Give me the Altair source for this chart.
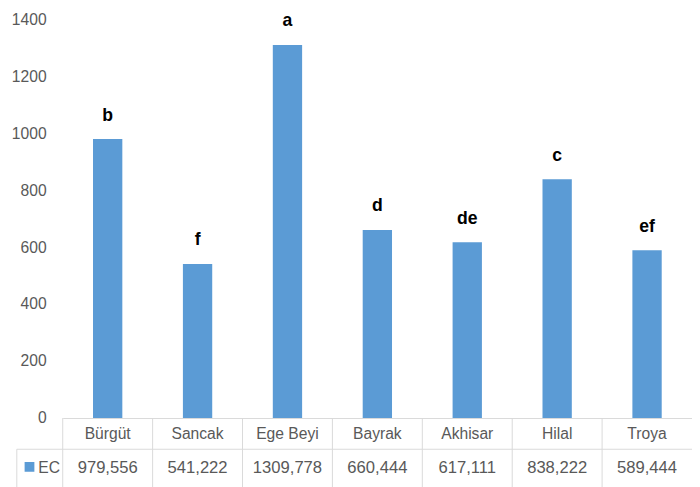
import altair as alt
import pandas as pd

categories = ["Bürgüt", "Sancak", "Ege Beyi", "Bayrak", "Akhisar", "Hilal", "Troya"]
ec_values = [979.556, 541.222, 1309.778, 660.444, 617.111, 838.222, 589.444]
letters = ["b", "f", "a", "d", "de", "c", "ef"]
y_ticks = [0, 200, 400, 600, 800, 1000, 1200, 1400]
series_name = "EC"

df = pd.DataFrame({
    "cat": categories,
    "value": ec_values,
    "letter": letters,
    "label": [f"{v:.3f}".replace(".", ",") for v in ec_values],
})
one = pd.DataFrame({"series": [series_name]})

W = 644
H = 408
FONT = "Liberation Sans"
GRAY_TXT = "#595959"
LINE = "#D9D9D9"
BLUE = "#5B9BD5"

x_axis = alt.Axis(title=None, labelAngle=0, ticks=False, domainColor=LINE, domainWidth=1,
                  labelFont=FONT, labelFontSize=16, labelColor=GRAY_TXT, labelPadding=8,
                  grid=False)
x_scale = alt.Scale(domain=categories, paddingInner=0, paddingOuter=0)
y_scale = alt.Scale(domain=[0, 1400], nice=False)
y_axis = alt.Axis(title=None, values=y_ticks, format="d", domain=False, ticks=False, grid=False,
                  labelFont=FONT, labelFontSize=16, labelColor=GRAY_TXT, labelPadding=17)

X = alt.X("cat:N", sort=categories, scale=x_scale, axis=x_axis)
Y = alt.Y("value:Q", scale=y_scale, axis=y_axis)

bars = alt.Chart(df).mark_bar(size=30, color=BLUE).encode(x=X, y=Y)

sig = alt.Chart(df).mark_text(font=FONT, fontSize=18, fontWeight="bold", color="black",
                              baseline="alphabetic", dy=-19).encode(x=X, y=Y, text="letter:N")

vals = alt.Chart(df).mark_text(font=FONT, fontSize=17, color=GRAY_TXT,
                               baseline="alphabetic").encode(
    x=X, y=alt.value(H + 56), text="label:N")

vlines = alt.Chart(df).mark_rule(color=LINE, strokeWidth=1).encode(
    x=alt.X("cat:N", sort=categories, scale=x_scale, axis=x_axis, bandPosition=0),
    y=alt.value(H), y2=alt.value(H + 75))

hline = alt.Chart(one).mark_rule(color=LINE, strokeWidth=1).encode(
    x=alt.value(-47), x2=alt.value(W + 20), y=alt.value(H + 32))

lborder = alt.Chart(one).mark_rule(color=LINE, strokeWidth=1).encode(
    x=alt.value(-47), y=alt.value(H + 32), y2=alt.value(H + 75))

swatch = alt.Chart(one).mark_point(shape="square", filled=True, size=100, color=BLUE,
                                   opacity=1).encode(x=alt.value(-34), y=alt.value(H + 50))

ec_text = alt.Chart(one).mark_text(font=FONT, fontSize=16, color=GRAY_TXT, align="left",
                                   baseline="alphabetic").encode(
    x=alt.value(-25), y=alt.value(H + 56), text="series:N")

chart = alt.layer(bars, sig, vals, vlines, hline, lborder, swatch, ec_text).properties(
    width=W, height=H,
    autosize=alt.AutoSizeParams(type="none"),
    padding={"left": 56, "top": 6, "right": 0, "bottom": 65},
    background="white",
).configure_view(stroke=None)

chart.save("out.html", embed_options={"renderer": "svg", "actions": False})
